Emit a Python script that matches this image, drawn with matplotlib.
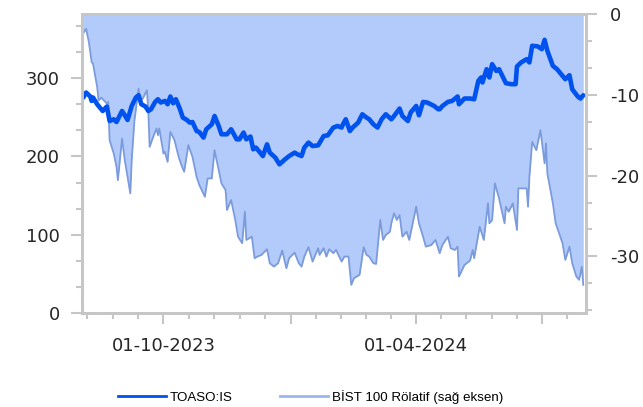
import matplotlib
matplotlib.use("Agg")
import matplotlib.pyplot as plt
import matplotlib.dates as mdates
from matplotlib.ticker import MultipleLocator, FixedLocator, FuncFormatter
from matplotlib.lines import Line2D
import numpy as np
import pandas as pd

plt.rcParams["axes.unicode_minus"] = False

# TOASO:IS price (left axis)
toaso_dates = [
    "2023-08-04", "2023-08-06", "2023-08-09", "2023-08-10", "2023-08-11", "2023-08-14", "2023-08-16", "2023-08-18",
    "2023-08-21", "2023-08-23", "2023-08-26", "2023-08-28", "2023-08-30", "2023-09-01", "2023-09-03", "2023-09-05",
    "2023-09-08", "2023-09-11", "2023-09-13", "2023-09-15", "2023-09-18", "2023-09-20", "2023-09-22", "2023-09-25",
    "2023-09-27", "2023-09-29", "2023-10-02", "2023-10-04", "2023-10-06", "2023-10-08", "2023-10-10", "2023-10-13",
    "2023-10-15", "2023-10-18", "2023-10-20", "2023-10-22", "2023-10-25", "2023-10-27", "2023-10-30", "2023-11-01",
    "2023-11-05", "2023-11-07", "2023-11-10", "2023-11-12", "2023-11-16", "2023-11-19", "2023-11-23", "2023-11-25",
    "2023-11-28", "2023-11-30", "2023-12-03", "2023-12-05", "2023-12-07", "2023-12-10", "2023-12-12", "2023-12-15",
    "2023-12-17", "2023-12-21", "2023-12-24", "2023-12-28", "2023-12-31", "2024-01-04", "2024-01-06", "2024-01-09",
    "2024-01-11", "2024-01-14", "2024-01-17", "2024-01-21", "2024-01-25", "2024-01-28", "2024-02-01", "2024-02-04",
    "2024-02-07", "2024-02-08", "2024-02-10", "2024-02-13", "2024-02-15", "2024-02-19", "2024-02-22", "2024-02-25",
    "2024-02-27", "2024-03-01", "2024-03-04", "2024-03-07", "2024-03-10", "2024-03-14", "2024-03-16", "2024-03-20",
    "2024-03-22", "2024-03-26", "2024-03-28", "2024-04-01", "2024-04-03", "2024-04-06", "2024-04-09", "2024-04-14",
    "2024-04-17", "2024-04-18", "2024-04-20", "2024-04-24", "2024-04-27", "2024-05-01", "2024-05-02", "2024-05-06",
    "2024-05-10", "2024-05-13", "2024-05-16", "2024-05-18", "2024-05-19", "2024-05-22", "2024-05-24", "2024-05-26",
    "2024-05-29", "2024-05-31", "2024-06-03", "2024-06-05", "2024-06-09", "2024-06-12", "2024-06-13", "2024-06-16",
    "2024-06-20", "2024-06-22", "2024-06-24", "2024-06-28", "2024-07-01", "2024-07-03", "2024-07-05", "2024-07-09",
    "2024-07-12", "2024-07-16", "2024-07-18", "2024-07-21", "2024-07-23", "2024-07-27", "2024-07-29", "2024-07-31",
]
toaso_vals = [
    275.3, 281.7, 276.6, 270.9, 275.3, 266.7, 262.5, 258.1, 263.8, 245.3, 247.5, 244.0, 251.0, 258.1, 252.6, 246.6,
    264.5, 275.3, 278.2, 266.7, 263.8, 258.1, 260.3, 269.7, 273.1, 268.9, 270.9, 266.7, 276.6, 268.0, 273.1, 260.3,
    249.7, 246.6, 243.3, 244.0, 232.5, 231.2, 224.1, 234.7, 241.1, 251.7, 238.9, 228.3, 228.3, 234.7, 221.9, 221.9,
    230.5, 221.9, 225.4, 209.1, 211.3, 204.9, 200.5, 215.5, 204.9, 198.5, 189.9, 196.3, 200.5, 204.9, 202.7, 200.5,
    211.3, 217.7, 213.3, 214.2, 226.1, 227.0, 236.9, 238.9, 236.9, 241.1, 247.5, 232.5, 236.9, 243.3, 253.9, 249.7,
    247.5, 241.1, 236.9, 247.5, 253.9, 247.5, 251.7, 261.2, 251.7, 245.3, 256.1, 264.5, 252.6, 269.7, 268.9, 264.5,
    260.3, 260.3, 264.5, 269.7, 270.9, 276.6, 266.7, 274.0, 274.0, 273.1, 296.5, 300.9, 294.5, 311.5, 300.9, 317.9,
    309.3, 311.5, 300.9, 293.6, 292.3, 292.3, 315.0, 320.1, 324.3, 320.1, 341.4, 340.6, 337.1, 349.0, 335.0, 315.7,
    311.5, 302.9, 298.7, 303.8, 285.9, 276.6, 274.0, 278.2,
]

# BIST 100 relative (right axis)
bist_dates = [
    "2023-08-04", "2023-08-06", "2023-08-08", "2023-08-10", "2023-08-11", "2023-08-14", "2023-08-15", "2023-08-17",
    "2023-08-21", "2023-08-22", "2023-08-23", "2023-08-26", "2023-08-28", "2023-08-29", "2023-09-01", "2023-09-03",
    "2023-09-07", "2023-09-08", "2023-09-10", "2023-09-13", "2023-09-14", "2023-09-16", "2023-09-19", "2023-09-20",
    "2023-09-21", "2023-09-24", "2023-09-26", "2023-09-27", "2023-09-28", "2023-10-01", "2023-10-02", "2023-10-04",
    "2023-10-06", "2023-10-09", "2023-10-12", "2023-10-14", "2023-10-16", "2023-10-19", "2023-10-22", "2023-10-25",
    "2023-10-27", "2023-10-31", "2023-11-02", "2023-11-05", "2023-11-07", "2023-11-09", "2023-11-12", "2023-11-15",
    "2023-11-16", "2023-11-19", "2023-11-22", "2023-11-24", "2023-11-27", "2023-11-29", "2023-11-30", "2023-12-04",
    "2023-12-06", "2023-12-08", "2023-12-11", "2023-12-15", "2023-12-17", "2023-12-20", "2023-12-23", "2023-12-26",
    "2023-12-29", "2023-12-31", "2024-01-04", "2024-01-07", "2024-01-09", "2024-01-11", "2024-01-14", "2024-01-17",
    "2024-01-21", "2024-01-22", "2024-01-25", "2024-01-27", "2024-01-29", "2024-02-01", "2024-02-03", "2024-02-07",
    "2024-02-09", "2024-02-12", "2024-02-14", "2024-02-16", "2024-02-20", "2024-02-23", "2024-02-25", "2024-02-27",
    "2024-03-01", "2024-03-03", "2024-03-06", "2024-03-08", "2024-03-10", "2024-03-13", "2024-03-14", "2024-03-16",
    "2024-03-18", "2024-03-20", "2024-03-22", "2024-03-25", "2024-03-27", "2024-03-30", "2024-04-01", "2024-04-03",
    "2024-04-06", "2024-04-08", "2024-04-12", "2024-04-15", "2024-04-18", "2024-04-20", "2024-04-24", "2024-04-26",
    "2024-04-29", "2024-05-01", "2024-05-02", "2024-05-06", "2024-05-10", "2024-05-12", "2024-05-13", "2024-05-17",
    "2024-05-20", "2024-05-23", "2024-05-24", "2024-05-26", "2024-05-28", "2024-05-31", "2024-06-04", "2024-06-05",
    "2024-06-07", "2024-06-10", "2024-06-13", "2024-06-14", "2024-06-20", "2024-06-21", "2024-06-22", "2024-06-24",
    "2024-06-27", "2024-06-30", "2024-07-03", "2024-07-04", "2024-07-05", "2024-07-09", "2024-07-11", "2024-07-16",
    "2024-07-18", "2024-07-21", "2024-07-23", "2024-07-26", "2024-07-28", "2024-07-30", "2024-07-31",
]
bist_vals = [
    -2.37, -1.83, -3.48, -5.95, -6.15, -9.04, -10.68, -10.35, -11.09, -10.89, -15.62, -17.26, -18.91, -20.56, -15.41, -18.09,
    -22.20, -18.09, -13.15, -9.23, -10.68, -10.47, -9.44, -11.91, -16.44, -15.00, -14.17, -15.00, -14.17, -17.26, -17.06, -18.30,
    -14.59, -15.62, -17.68, -18.70, -19.53, -16.23, -17.68, -20.15, -21.17, -22.62, -20.35, -20.35, -16.85, -18.49, -20.96, -21.79,
    -24.26, -23.02, -25.49, -27.56, -28.37, -24.47, -27.96, -27.56, -30.22, -30.02, -29.81, -29.11, -30.84, -31.26, -30.84, -29.28,
    -31.46, -30.22, -29.53, -30.84, -31.26, -30.02, -28.86, -30.64, -28.99, -29.81, -28.99, -30.02, -29.11, -29.60, -29.20, -30.64,
    -30.02, -30.02, -33.52, -32.69, -32.28, -28.86, -29.81, -30.02, -30.84, -30.93, -25.49, -27.96, -27.35, -26.94, -25.90, -24.67,
    -25.49, -24.88, -27.56, -26.94, -27.96, -25.49, -23.85, -25.90, -27.56, -28.79, -28.58, -27.96, -29.60, -28.58, -27.56, -28.99,
    -29.20, -28.79, -32.49, -31.05, -30.52, -29.20, -30.22, -26.32, -27.96, -23.43, -25.90, -25.49, -20.96, -22.81, -25.90, -23.85,
    -24.47, -23.43, -26.73, -21.58, -21.58, -23.85, -20.15, -15.83, -16.85, -14.38, -18.49, -16.02, -19.73, -23.43, -25.90, -28.37,
    -30.43, -28.79, -30.84, -32.49, -32.90, -31.26, -33.52,
]

series_labels = ["TOASO:IS", "BİST 100 Rölatif (sağ eksen)"]

toaso_x = pd.to_datetime(toaso_dates)
bist_x = pd.to_datetime(bist_dates)

grey = "#c6c6c6"
txt = "#262626"
dark_blue = "#0052ef"
fill_blue = "#b3cbfa"

fig = plt.figure(figsize=(6.43, 4.07), dpi=100)
ax = fig.add_axes([0.1275, 0.231, 0.7839, 0.7346])
ax2 = ax.twinx()
# price line on top of the relative fill
ax.set_zorder(ax2.get_zorder() + 1)
ax.patch.set_visible(False)

ax2.fill_between(bist_x, bist_vals, 0, color=fill_blue, lw=0)
ax2.plot(bist_x, bist_vals, color="#7b9bdc", lw=1.3)
ax.plot(toaso_x, toaso_vals, color=dark_blue, lw=3.3,
        solid_joinstyle="round", solid_capstyle="round")

ax.set_ylim(0, 382)
ax2.set_ylim(-37, 0)
ax.set_xlim(pd.Timestamp("2023-08-03"), pd.Timestamp("2024-08-02"))

ax.yaxis.set_major_locator(MultipleLocator(100))
ax.yaxis.set_minor_locator(MultipleLocator(100 / 3))
ax2.yaxis.set_major_locator(MultipleLocator(10))
ax2.yaxis.set_minor_locator(MultipleLocator(10 / 3))
ax2.yaxis.set_major_formatter(FuncFormatter(lambda v, p: f"{v:.0f}"))

# quarterly major ticks, each quarter split in five for minor ticks
quarters = pd.date_range("2023-07-01", "2024-10-01", freq="QS")
qnum = mdates.date2num(quarters)
minor = np.concatenate([np.linspace(a, b, 6)[1:-1] for a, b in zip(qnum[:-1], qnum[1:])])
ax.xaxis.set_major_locator(FixedLocator(qnum))
ax.xaxis.set_minor_locator(FixedLocator(minor))
ax.xaxis.set_major_formatter(FuncFormatter(
    lambda v, p: mdates.num2date(v).strftime("%d-%m-%Y") if mdates.num2date(v).month in (4, 10) else ""))

for a in (ax, ax2):
    for s in a.spines.values():
        s.set_color(grey)
        s.set_linewidth(2)

ax.tick_params(axis="y", which="major", length=8, width=1.5, color=grey,
               labelsize=13, labelcolor=txt, pad=8)
ax.tick_params(axis="x", which="major", length=8, width=1.5, color=grey,
               labelsize=13, labelcolor=txt, pad=9)
ax.tick_params(axis="both", which="minor", length=4, width=1.5, color=grey)
ax2.tick_params(axis="y", which="major", length=8, width=1.5, color=grey,
                labelsize=13, labelcolor=txt, pad=9)
ax2.tick_params(axis="y", which="minor", length=4, width=1.5, color=grey)

handles = [Line2D([], [], color=dark_blue, lw=2),
           Line2D([], [], color="#9ab5f0", lw=2)]
fig.legend(handles, series_labels, loc="center", bbox_to_anchor=(0.483, 0.025),
           ncol=2, frameon=False, prop={"family": "Liberation Sans", "size": 9.6},
           handlelength=3.6, columnspacing=3.6, handletextpad=0.25)

fig.savefig("out.png", dpi=100)
